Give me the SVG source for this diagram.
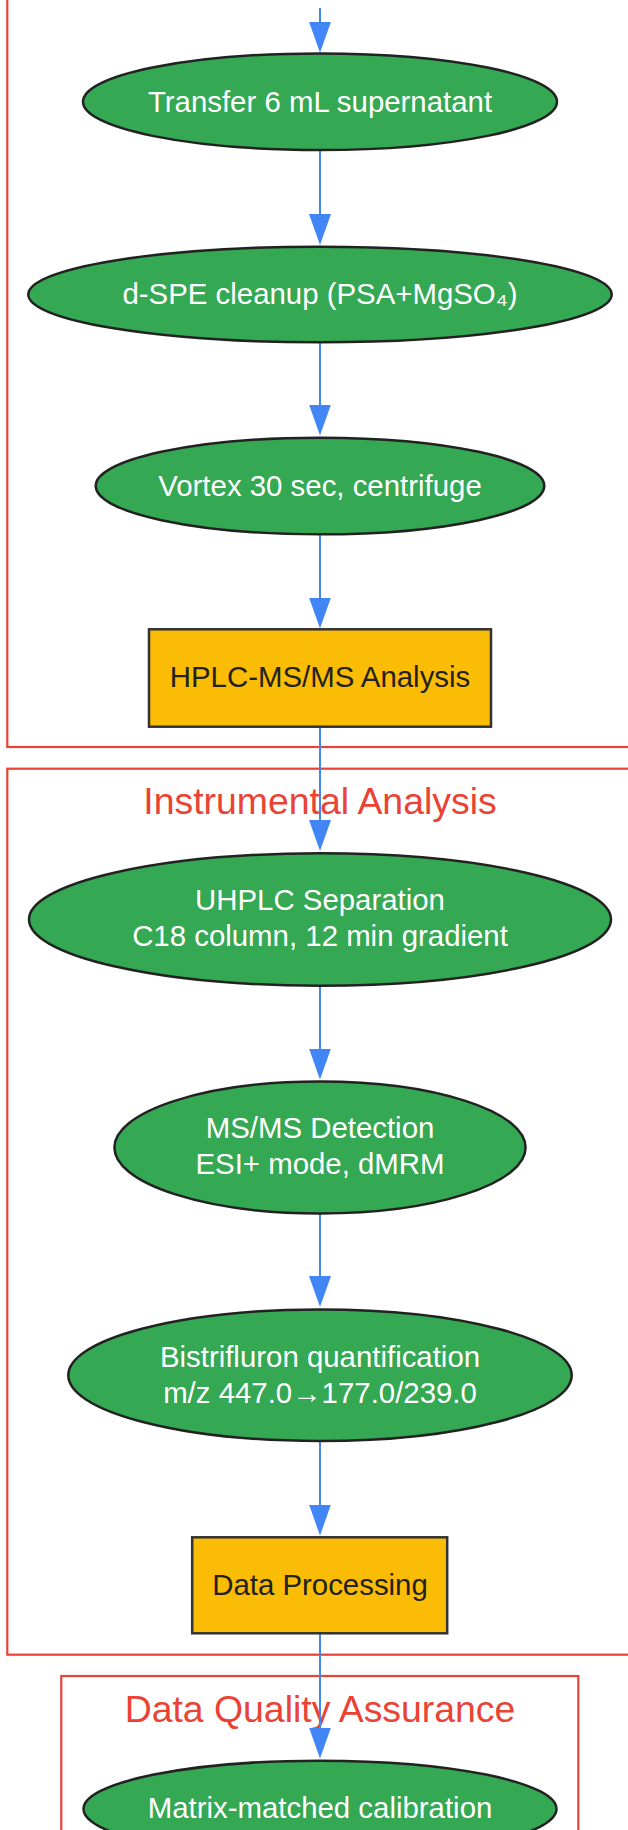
<svg xmlns="http://www.w3.org/2000/svg" width="628" height="1830" viewBox="0 0 628 1830">
<style>
.cluster{fill:none;stroke:#EA4335;stroke-width:2.2}
.ctitle{font-family:"Liberation Sans",Arial,sans-serif;font-size:37.4px;fill:#EA4335;text-anchor:middle}
.proc ellipse{fill:#34A853;stroke:#222222;stroke-width:2.5}
.proc text{font-family:"Liberation Sans",Arial,sans-serif;font-size:29.4px;fill:#FFFFFF;text-anchor:middle}
.out rect{fill:#FBBC05;stroke:#333333;stroke-width:2.5}
.out text{font-family:"Liberation Sans",Arial,sans-serif;font-size:29.4px;fill:#222222;text-anchor:middle}
.edge{stroke:#4285F4;stroke-width:2;fill:none}
</style>
<defs>
<marker id="arr" markerUnits="userSpaceOnUse" markerWidth="32" markerHeight="23" refX="21" refY="11" orient="auto">
<path d="M0,0 L31,11 L0,22 Z" fill="#4285F4"/>
</marker>
</defs>
<rect width="628" height="1830" fill="#FFFFFF"/>
<g id="clusters">
<rect id="cluster-prep" class="cluster" x="7.3" y="-20" width="660" height="767"/>
<rect id="cluster-instrumental" class="cluster" x="7.3" y="768.7" width="660" height="886"/>
<text class="ctitle" x="320" y="814.3">Instrumental Analysis</text>
<rect id="cluster-qa" class="cluster" x="61.3" y="1676" width="517" height="200"/>
<text class="ctitle" x="320" y="1721.7">Data Quality Assurance</text>
</g>
<g id="connectors">
<line class="edge" x1="320" y1="8" x2="320" y2="42.7" marker-end="url(#arr)"/>
<line class="edge" x1="320" y1="150" x2="320" y2="235" marker-end="url(#arr)"/>
<line class="edge" x1="320" y1="342" x2="320" y2="425.5" marker-end="url(#arr)"/>
<line class="edge" x1="320" y1="534.3" x2="320" y2="618.5" marker-end="url(#arr)"/>
<line class="edge" x1="320" y1="726.7" x2="320" y2="841" marker-end="url(#arr)"/>
<line class="edge" x1="320" y1="985.7" x2="320" y2="1069.5" marker-end="url(#arr)"/>
<line class="edge" x1="320" y1="1213.3" x2="320" y2="1297" marker-end="url(#arr)"/>
<line class="edge" x1="320" y1="1441" x2="320" y2="1525.5" marker-end="url(#arr)"/>
<line class="edge" x1="320" y1="1633.3" x2="320" y2="1748.5" marker-end="url(#arr)"/>
</g>
<g id="transfer" class="proc">
<ellipse cx="320" cy="101.7" rx="237" ry="48.3"/>
<text x="320" y="111.7">Transfer 6 mL supernatant</text>
</g>
<g id="dspe" class="proc">
<ellipse cx="320" cy="294.5" rx="291.7" ry="47.8"/>
<text x="320" y="304">d-SPE cleanup (PSA+MgSO₄)</text>
</g>
<g id="vortex" class="proc">
<ellipse cx="320" cy="486" rx="224.3" ry="48.3"/>
<text x="320" y="496">Vortex 30 sec, centrifuge</text>
</g>
<g id="hplc" class="out">
<rect x="149" y="629.3" width="342" height="97.4"/>
<text x="320" y="687.3">HPLC-MS/MS Analysis</text>
</g>
<g id="uhplc" class="proc">
<ellipse cx="320" cy="919.5" rx="291" ry="66.2"/>
<text x="320" y="910">UHPLC Separation</text>
<text x="320" y="946">C18 column, 12 min gradient</text>
</g>
<g id="msms" class="proc">
<ellipse cx="320" cy="1147.5" rx="205.6" ry="66"/>
<text x="320" y="1138.3">MS/MS Detection</text>
<text x="320" y="1174">ESI+ mode, dMRM</text>
</g>
<g id="quant" class="proc">
<ellipse cx="320" cy="1375.2" rx="251.7" ry="65.8"/>
<text x="320" y="1366.7">Bistrifluron quantification</text>
<text x="320" y="1402.7">m/z 447.0→177.0/239.0</text>
</g>
<g id="dataproc" class="out">
<rect x="192.2" y="1537.3" width="255" height="96"/>
<text x="320" y="1595">Data Processing</text>
</g>
<g id="calib" class="proc">
<ellipse cx="320" cy="1809" rx="236.5" ry="48.3"/>
<text x="320" y="1818.3">Matrix-matched calibration</text>
</g>
</svg>
